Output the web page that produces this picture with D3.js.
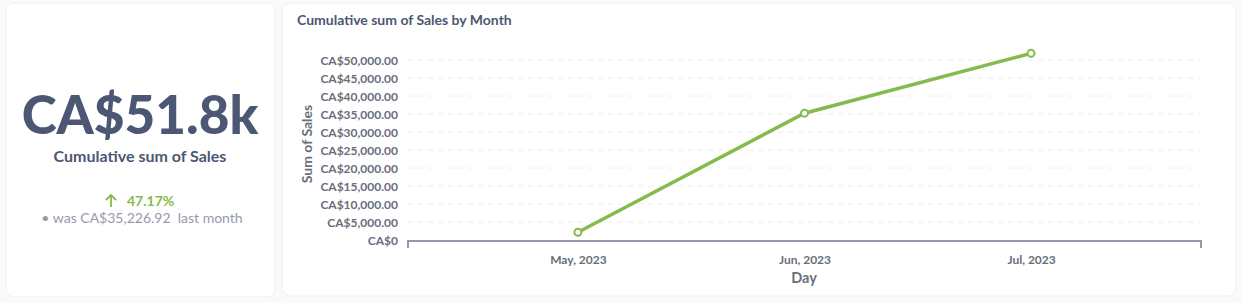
<!DOCTYPE html>
<html>
<head>
<meta charset="utf-8">
<script src="https://cdn.jsdelivr.net/npm/d3@7"></script>
<style>
  html, body { margin: 0; padding: 0; background: #f9fafb; font-family: Lato, "Open Sans", sans-serif; }
  svg { display: block; }
</style>
</head>
<body>
<svg id="chart" width="1241" height="303"></svg>
<script>
// -----------
// DATOS
// -----------
const months = ['May, 2023', 'Jun, 2023', 'Jul, 2023'];
const cumulativeSales = [2150, 35226.92, 51844];
const yTicks = [0, 5000, 10000, 15000, 20000, 25000, 30000, 35000, 40000, 45000, 50000];
const scalarValue = 'CA$51.8k';
const scalarTitle = 'Cumulative sum of Sales';
const changeText = '47.17%';
const previousText = 'was CA$35,226.92';
const previousPeriod = 'last month';

const colores = { dark: '#4c5773', axis: '#949aab', label: '#696e7b', green: '#84bb4c', grid: '#eceef1' };

const svg = d3.select('#chart');

// -----------
// TARJETAS
// -----------
svg.append('rect').attr('x', 6).attr('y', 3).attr('width', 269).attr('height', 294)
  .attr('rx', 8).attr('fill', '#fff').attr('stroke', '#eef0f3');
svg.append('rect').attr('x', 282).attr('y', 3).attr('width', 954).attr('height', 293)
  .attr('rx', 8).attr('fill', '#fff').attr('stroke', '#eef0f3');

// -----------
// ESCALAR
// -----------
const left = svg.append('g').attr('text-anchor', 'middle');
left.append('text').attr('x', 140).attr('y', 134).text(scalarValue)
  .attr('font-size', 53).attr('font-weight', 900).attr('fill', colores.dark);
left.append('text').attr('x', 140).attr('y', 162).text(scalarTitle)
  .attr('font-size', 16).attr('font-weight', 700).attr('fill', colores.dark);
// flecha de cambio
const arrow = svg.append('g').attr('transform', 'translate(111,201)')
  .attr('stroke', colores.green).attr('stroke-width', 1.8).attr('fill', 'none');
arrow.append('path').attr('d', 'M0,6V-6M-5,-1L0,-6L5,-1');
svg.append('text').attr('x', 127).attr('y', 206).text(changeText)
  .attr('font-size', 14).attr('font-weight', 700).attr('fill', colores.green);
const prev = left.append('text').attr('x', 142).attr('y', 223)
  .attr('font-size', 14).attr('fill', colores.axis);
prev.append('tspan').text('•\u00a0' + previousText + '\u00a0\u00a0');
prev.append('tspan').text(previousPeriod);

// -----------
// GRAFICA DE LINEA
// -----------
svg.append('text').attr('x', 297).attr('y', 25).text('Cumulative sum of Sales by Month')
  .attr('font-size', 14).attr('font-weight', 700).attr('fill', colores.dark);

const margin = { left: 408, right: 1201, top: 60, bottom: 240 };
const x = d3.scalePoint().domain(months).range([margin.left, margin.right]).padding(0.75);
const y = d3.scaleLinear().domain([0, 50000]).range([margin.bottom, margin.top]);

// gridlines
svg.append('g').selectAll('line').data(yTicks.slice(1)).join('line')
  .attr('x1', margin.left).attr('x2', margin.right)
  .attr('y1', (d) => y(d)).attr('y2', (d) => y(d))
  .attr('stroke', colores.grid).attr('stroke-dasharray', '5,5');

// y axis
const yAxis = svg.append('g').attr('transform', `translate(${margin.left - 10},0)`)
  .call(d3.axisLeft(y).tickValues(yTicks).tickSize(0).tickPadding(0)
    .tickFormat((d) => (d === 0 ? 'CA$0' : 'CA$' + d3.format(',.2f')(d))));
yAxis.select('.domain').remove();
yAxis.selectAll('text').attr('font-family', 'Lato').attr('font-size', 12)
  .attr('font-weight', 700).attr('fill', colores.label).attr('dy', '0.36em');

// x axis
const xAxis = svg.append('g').attr('transform', `translate(0,${margin.bottom + 1})`)
  .call(d3.axisBottom(x).tickSize(0).tickPadding(14));
xAxis.select('.domain').attr('stroke', colores.axis).attr('stroke-width', 2)
  .attr('d', `M${margin.left},7V0H${margin.right}V7`);
xAxis.selectAll('text').attr('font-family', 'Lato').attr('font-size', 12)
  .attr('font-weight', 700).attr('fill', colores.label);

// axis labels
svg.append('text').attr('transform', `translate(312,144) rotate(-90)`).attr('text-anchor', 'middle')
  .text('Sum of Sales').attr('font-size', 14).attr('font-weight', 700).attr('fill', colores.label);
svg.append('text').attr('x', 804).attr('y', 283).attr('text-anchor', 'middle')
  .text('Day').attr('font-size', 14.5).attr('font-weight', 700).attr('fill', colores.label);

// line + points
const line = d3.line().x((d, i) => x(months[i])).y((d) => y(d));
svg.append('path').datum(cumulativeSales).attr('d', line)
  .attr('fill', 'none').attr('stroke', colores.green).attr('stroke-width', 3.5);
svg.append('g').selectAll('circle').data(cumulativeSales).join('circle')
  .attr('cx', (d, i) => x(months[i])).attr('cy', (d) => y(d)).attr('r', 3.5)
  .attr('fill', '#fff').attr('stroke', colores.green).attr('stroke-width', 2);
</script>
</body>
</html>
